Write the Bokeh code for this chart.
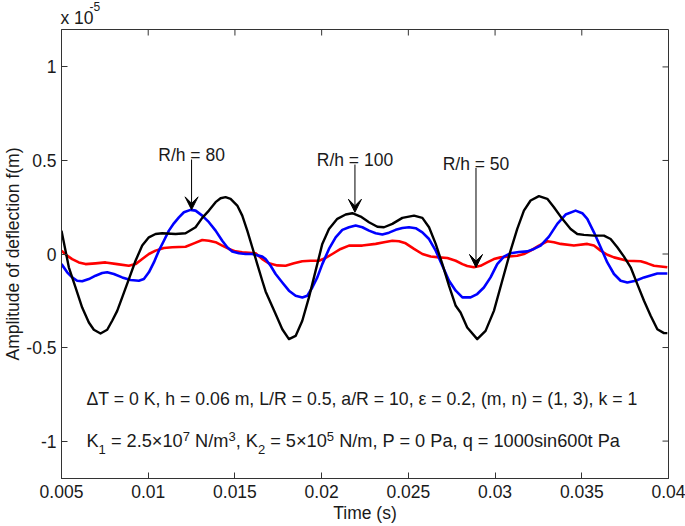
import math
from bokeh.plotting import figure
from bokeh.models import (LinearAxis, FixedTicker, Label, Arrow, VeeHead, Range1d, Title)
from bokeh.embed import file_html
from bokeh.resources import INLINE

# ---------------- data (amplitude in units of 1e-5 m) ----------------
t_black = [0.005000, 0.005423, 0.005808, 0.006192, 0.006577, 0.006865, 0.007250, 0.007635,
           0.007923, 0.008212, 0.008500, 0.008885, 0.009269, 0.009654, 0.010038, 0.010423,
           0.010808, 0.011577, 0.012154, 0.012731, 0.013115, 0.013500, 0.013885, 0.014173,
           0.014462, 0.014750, 0.015135, 0.015423, 0.015712, 0.016000, 0.016288, 0.016577,
           0.016769, 0.017346, 0.017731, 0.018115, 0.018500, 0.018885, 0.019269, 0.019654,
           0.020038, 0.020423, 0.020904, 0.021385, 0.021769, 0.022250, 0.022731, 0.023212,
           0.023596, 0.024077, 0.024654, 0.025327, 0.025808, 0.026192, 0.026577, 0.026962,
           0.027346, 0.027731, 0.028010, 0.028394, 0.028971, 0.029452, 0.029933, 0.030413,
           0.030894, 0.031279, 0.031663, 0.032048, 0.032529, 0.033010, 0.033394, 0.033875,
           0.034356, 0.034740, 0.035125, 0.035702, 0.036279, 0.036663, 0.037048, 0.037433,
           0.037817, 0.038202, 0.038587, 0.038971, 0.039356, 0.039740, 0.039933]
y_black = [0.125, -0.071, -0.179, -0.286, -0.366, -0.405, -0.425, -0.405,
           -0.357, -0.304, -0.232, -0.134, -0.036, 0.045, 0.089, 0.107,
           0.111, 0.107, 0.111, 0.143, 0.193, 0.232, 0.277, 0.298,
           0.304, 0.295, 0.259, 0.205, 0.125, 0.036, -0.054, -0.143,
           -0.200, -0.321, -0.402, -0.455, -0.438, -0.357, -0.232, -0.089,
           0.054, 0.134, 0.188, 0.211, 0.218, 0.200, 0.170, 0.146,
           0.143, 0.161, 0.193, 0.205, 0.193, 0.143, 0.054, -0.054,
           -0.170, -0.277, -0.313, -0.393, -0.455, -0.411, -0.304, -0.143,
           0.018, 0.134, 0.232, 0.286, 0.309, 0.295, 0.250, 0.188,
           0.134, 0.107, 0.102, 0.098, 0.098, 0.080, 0.036, -0.014,
           -0.071, -0.161, -0.250, -0.330, -0.402, -0.423, -0.423]

t_blue = [0.005000, 0.005327, 0.005615, 0.005904, 0.006192, 0.006577, 0.006962, 0.007346,
          0.007635, 0.008019, 0.008500, 0.008981, 0.009462, 0.009750, 0.010038, 0.010327,
          0.010615, 0.010904, 0.011192, 0.011481, 0.011769, 0.012058, 0.012442, 0.012731,
          0.013115, 0.013500, 0.013885, 0.014269, 0.014558, 0.014846, 0.015231, 0.015615,
          0.016000, 0.016577, 0.016769, 0.017058, 0.017346, 0.017731, 0.018115, 0.018500,
          0.018885, 0.019173, 0.019462, 0.019750, 0.020038, 0.020423, 0.020808, 0.021192,
          0.021577, 0.021962, 0.022346, 0.022731, 0.023115, 0.023500, 0.023885, 0.024269,
          0.024654, 0.025038, 0.025423, 0.025808, 0.026192, 0.026577, 0.026962, 0.027346,
          0.027731, 0.028115, 0.028587, 0.028971, 0.029356, 0.029740, 0.030125, 0.030510,
          0.030894, 0.031375, 0.031856, 0.032240, 0.032625, 0.033106, 0.033587, 0.034067,
          0.034644, 0.035029, 0.035317, 0.035702, 0.036087, 0.036471, 0.036856, 0.037240,
          0.037625, 0.038106, 0.038587, 0.039356, 0.039933]
y_blue = [-0.054, -0.098, -0.125, -0.143, -0.146, -0.134, -0.116, -0.102,
          -0.098, -0.107, -0.125, -0.139, -0.143, -0.134, -0.098, -0.045,
          0.018, 0.071, 0.125, 0.164, 0.196, 0.223, 0.236, 0.232,
          0.205, 0.170, 0.125, 0.071, 0.036, 0.014, 0.004, 0.000,
          0.000, -0.014, -0.027, -0.063, -0.107, -0.152, -0.196, -0.223,
          -0.232, -0.223, -0.179, -0.125, -0.054, 0.027, 0.089, 0.129,
          0.143, 0.152, 0.143, 0.125, 0.111, 0.104, 0.114, 0.129,
          0.139, 0.143, 0.138, 0.116, 0.080, 0.018, -0.063, -0.143,
          -0.196, -0.232, -0.232, -0.214, -0.179, -0.125, -0.054, -0.014,
          0.004, 0.011, 0.014, 0.027, 0.045, 0.093, 0.161, 0.211,
          0.232, 0.218, 0.188, 0.116, 0.036, -0.045, -0.107, -0.143,
          -0.152, -0.143, -0.125, -0.104, -0.104]

t_red = [0.005000, 0.005327, 0.005615, 0.006000, 0.006385, 0.006962, 0.007538, 0.008212,
         0.008885, 0.009269, 0.009654, 0.010038, 0.010423, 0.010904, 0.011385, 0.012154,
         0.012635, 0.013115, 0.013500, 0.013885, 0.014269, 0.014654, 0.015038, 0.015423,
         0.016192, 0.016577, 0.016962, 0.017442, 0.017923, 0.018404, 0.018885, 0.019365,
         0.019846, 0.020231, 0.020615, 0.021096, 0.021577, 0.022346, 0.023115, 0.023596,
         0.024077, 0.024462, 0.024846, 0.025327, 0.025808, 0.026288, 0.026769, 0.027250,
         0.027731, 0.028115, 0.028394, 0.028779, 0.029163, 0.029548, 0.029933, 0.030317,
         0.030798, 0.031279, 0.031663, 0.032048, 0.032529, 0.033010, 0.033394, 0.033779,
         0.034548, 0.035317, 0.035702, 0.036087, 0.036471, 0.036856, 0.037625, 0.038394,
         0.038779, 0.039163, 0.039933]
y_red = [0.018, -0.009, -0.027, -0.045, -0.054, -0.050, -0.045, -0.054,
         -0.063, -0.054, -0.027, 0.000, 0.018, 0.032, 0.036, 0.039,
         0.057, 0.075, 0.071, 0.063, 0.045, 0.027, 0.014, 0.009,
         0.004, -0.027, -0.050, -0.061, -0.063, -0.050, -0.039, -0.036,
         -0.036, -0.021, 0.000, 0.027, 0.045, 0.045, 0.054, 0.063,
         0.071, 0.068, 0.057, 0.027, 0.000, -0.013, -0.018, -0.021,
         -0.036, -0.054, -0.064, -0.071, -0.063, -0.045, -0.027, -0.018,
         -0.013, -0.009, 0.000, 0.018, 0.045, 0.068, 0.063, 0.054,
         0.045, 0.054, 0.045, 0.018, -0.004, -0.018, -0.036, -0.039,
         -0.050, -0.063, -0.071]

x_ticks = [0.005, 0.01, 0.015, 0.02, 0.025, 0.03, 0.035, 0.04]
x_tick_labels = ["0.005", "0.01", "0.015", "0.02", "0.025", "0.03", "0.035", "0.04"]
y_ticks = [-1.0, -0.5, 0.0, 0.5, 1.0]
y_tick_labels = ["-1", "-0.5", "0", "0.5", "1"]

# annotations: (label, x of arrow, label baseline y, arrow start y, arrow tip y)
arrow_notes = [
    ("R/h = 80", 0.0125, 0.527, 0.505, 0.236),
    ("R/h = 100", 0.02192, 0.500, 0.478, 0.223),
    ("R/h = 50", 0.02890, 0.482, 0.460, -0.072),
]
param_line1 = "\u0394T = 0 K, h = 0.06 m, L/R = 0.5, a/R = 10, \u03b5 = 0.2, (m, n) = (1, 3), k = 1"
# second line split into (text, role) pieces: role "n" normal, "sub" subscript, "sup" superscript
param_line2 = [("K", "n"), ("1", "sub"), (" = 2.5\u00d710", "n"), ("7", "sup"), (" N/m", "n"),
               ("3", "sup"), (", K", "n"), ("2", "sub"), (" = 5\u00d710", "n"), ("5", "sup"),
               (" N/m, P = 0 Pa, q = 1000sin600t Pa", "n")]
x_title = "Time (s)"
y_title = "Amplitude of deflection f(m)"

FONT = "Liberation Sans"
TXT = "#1a1a1a"
FS = "17.5px"
L2_MAIN = 18.2
L2_SMALL = 13.0
LINE = "#333333"

# Arial / Liberation Sans advance widths (1/1000 em) used to place the script pieces
ADV = {" ": 278, "K": 667, "=": 584, ".": 278, "\u00d7": 584, "N": 722, "/": 278, "m": 833,
       ",": 278, "P": 667, "a": 556, "q": 556, "s": 500, "i": 222, "n": 556, "t": 278}


def text_width(s, size):
    return sum(ADV.get(c, 556) for c in s) / 1000.0 * size


p = figure(width=685, height=526, output_backend="svg", toolbar_location=None, title=None,
           x_range=Range1d(0.005, 0.04), y_range=Range1d(-1.2, 1.2),
           x_axis_location=None, y_axis_location=None,
           min_border_left=61, min_border_right=17, min_border_top=29, min_border_bottom=48)
p.background_fill_color = "white"
p.border_fill_color = "white"
p.outline_line_color = LINE
p.outline_line_width = 1
p.grid.visible = False

xover = {v: s for v, s in zip(x_ticks, x_tick_labels)}
yover = {v: s for v, s in zip(y_ticks, y_tick_labels)}


def style_axis(ax):
    ax.major_tick_in = 6
    ax.major_tick_out = 0
    ax.minor_tick_in = 0
    ax.minor_tick_out = 0
    ax.axis_line_color = LINE
    ax.major_tick_line_color = LINE
    ax.axis_label_text_font = FONT
    ax.axis_label_text_font_size = FS
    ax.axis_label_text_font_style = "normal"
    ax.axis_label_text_color = TXT
    ax.major_label_text_font = FONT
    ax.major_label_text_font_size = FS
    ax.major_label_text_color = TXT


bottom = LinearAxis(ticker=FixedTicker(ticks=x_ticks), major_label_overrides=xover,
                    major_label_standoff=6, axis_label=x_title, axis_label_standoff=2)
left = LinearAxis(ticker=FixedTicker(ticks=y_ticks), major_label_overrides=yover,
                  major_label_standoff=5, axis_label=y_title, axis_label_standoff=0)
style_axis(bottom)
style_axis(left)
p.add_layout(bottom, "below")
p.add_layout(left, "left")

# inward tick marks on the top and right edges of the box
p.ray(x=x_ticks, y=[1.2] * len(x_ticks), length=6, length_units="screen", angle=-math.pi / 2,
      line_color=LINE, line_width=1)
p.ray(x=[0.04] * len(y_ticks), y=y_ticks, length=6, length_units="screen", angle=math.pi,
      line_color=LINE, line_width=1)

# exponent "x 10^-5" above the frame
t_main = Title(text="x 10", align="left", offset=-1, standoff=3, text_font=FONT,
               text_font_size=FS, text_font_style="normal", text_color=TXT)
p.add_layout(t_main, "above")
try:
    t_exp = Title(text="-5", align="left", offset=28, standoff=-12, text_font=FONT,
                  text_font_size="12px", text_font_style="normal", text_color=TXT)
    p.add_layout(t_exp, "above")
except Exception:
    t_main.text = "x 10\u207b\u2075"

p.line(t_red, y_red, line_color="#ff0000", line_width=2.6, line_join="round")
p.line(t_blue, y_blue, line_color="#0000ff", line_width=2.6, line_join="round")
p.line(t_black, y_black, line_color="#000000", line_width=2.4, line_join="round")

for txt, xa, yl, ys, ye in arrow_notes:
    p.add_layout(Label(x=xa, y=yl, text=txt, text_align="center", text_baseline="alphabetic",
                       text_font=FONT, text_font_size=FS, text_color=TXT))
    p.add_layout(Arrow(x_start=xa, y_start=ys, x_end=xa, y_end=ye, line_color="black", line_width=1,
                       end=VeeHead(size=13, fill_color="black", line_color="black")))

p.add_layout(Label(x=0.00644, y=-0.777, text=param_line1, text_align="left", text_baseline="alphabetic",
                   text_font=FONT, text_font_size="17.7px", text_color=TXT))

# SVG drops leading spaces, so advance past them and draw the stripped text
xoff = 0.0
for piece, role in param_line2:
    size = L2_MAIN if role == "n" else L2_SMALL
    dy = 0 if role == "n" else (-8 if role == "sub" else 5)
    lead = len(piece) - len(piece.lstrip(" "))
    xoff += text_width(" " * lead, size)
    body = piece.strip(" ")
    p.add_layout(Label(x=0.00644, y=-1.0, x_offset=xoff, y_offset=dy, text=body, text_align="left",
                       text_baseline="alphabetic", text_font=FONT, text_font_size="%.1fpx" % size,
                       text_color=TXT))
    xoff += text_width(piece.lstrip(" "), size)

open("out.html", "w").write(file_html(p, INLINE))
